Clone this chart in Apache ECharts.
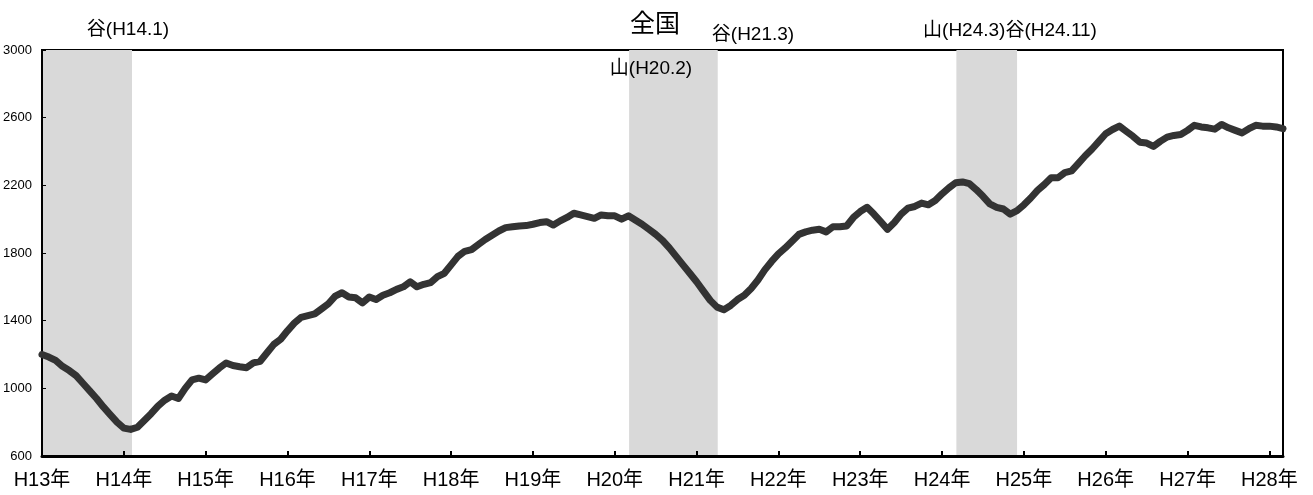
<!DOCTYPE html>
<html>
<head>
<meta charset="utf-8">
<script src="https://cdn.jsdelivr.net/npm/echarts@6/dist/echarts.min.js"></script>
<style>
html,body{margin:0;padding:0;background:#fff;}
#chart{width:1313px;height:495px;}
</style>
</head>
<body>
<div id="chart"></div>
<script>
// Monthly values, H13.1 (index 0) to H28.3 (index 182)
var values = [
1200,1185,1165,1130,1105,1075,1030,985,940,890,845,800,
765,757,770,810,850,895,930,955,940,1000,1050,1060,
1050,1085,1120,1150,1135,1128,1122,1150,1160,1210,1260,1290,
1340,1385,1420,1430,1440,1470,1500,1545,1565,1540,1535,1505,
1540,1525,1550,1565,1585,1600,1630,1600,1615,1625,1660,1680,
1730,1780,1810,1820,1850,1880,1905,1930,1950,1955,1960,1962,
1970,1980,1985,1965,1990,2010,2035,2025,2015,2005,2025,2020,
2020,2000,2020,1995,1970,1940,1910,1875,1830,1780,1730,1680,
1630,1575,1520,1480,1465,1490,1525,1550,1590,1640,1700,1750,
1795,1830,1870,1910,1925,1935,1940,1925,1955,1955,1960,2010,
2045,2070,2030,1985,1940,1980,2030,2065,2075,2095,2085,2110,
2150,2185,2215,2220,2210,2175,2135,2090,2070,2060,2030,2050,
2085,2125,2170,2205,2245,2245,2275,2285,2330,2375,2415,2460,
2505,2530,2550,2520,2490,2455,2450,2430,2460,2485,2495,2500,
2525,2555,2545,2540,2532,2560,2540,2525,2510,2535,2555,2550,
2550,2545,2535
];
var yearLabels = ['H13年','H14年','H15年','H16年','H17年','H18年','H19年','H20年','H21年','H22年','H23年','H24年','H25年','H26年','H27年','H28年'];
var yTicks = [600,1000,1400,1800,2200,2600,3000];
// Shaded recession periods (month index from H13.1)
var recessionStart = [0, 86.1, 134.1];
var recessionEnd = [13.2, 99.1, 143.0];
var title = '全国';
var turningLabels = ['谷(H14.1)','山(H20.2)','谷(H21.3)','山(H24.3)谷(H24.11)'];

var FONT = "'Liberation Sans','Noto Sans CJK JP',sans-serif";
var seriesData = values.map(function(v,i){return [i,v];});
var areas = recessionStart.map(function(s,k){return [{xAxis:s},{xAxis:recessionEnd[k]}];});

var chart = echarts.init(document.getElementById('chart'), null, {renderer:'canvas'});
chart.setOption({
  animation:false,
  backgroundColor:'#fff',
  grid:{left:42,right:30,top:50,bottom:39,show:true,borderColor:'#000',borderWidth:2,backgroundColor:'transparent'},
  xAxis:{
    type:'value',min:0,max:values.length-1,interval:12,z:3,
    axisLine:{show:true,lineStyle:{color:'#000',width:3}},
    axisTick:{show:true,inside:true,length:5,lineStyle:{color:'#000',width:2}},
    splitLine:{show:false},
    axisLabel:{color:'#000',fontSize:20,fontFamily:FONT,margin:14,showMaxLabel:true,
      formatter:function(v){return (v%12===0 && yearLabels[v/12])?yearLabels[v/12]:'';}}
  },
  yAxis:{
    type:'value',min:yTicks[0],max:yTicks[yTicks.length-1],interval:400,z:3,
    axisLine:{show:true,lineStyle:{color:'#000',width:1}},
    axisTick:{show:true,inside:true,length:4,lineStyle:{color:'#000',width:1}},
    splitLine:{show:false},
    axisLabel:{color:'#000',fontSize:13,fontFamily:FONT,margin:10,
      formatter:function(v){return String(v);}}
  },
  series:[
    {type:'line',data:[],z:1,silent:true,
     markArea:{silent:true,itemStyle:{color:'#d9d9d9'},data:areas}},
    {type:'line',data:seriesData,z:5,symbol:'none',smooth:false,
     lineStyle:{color:'#333333',width:7,cap:'round',join:'round'}}
  ],
  graphic:[
    {type:'text',x:655,y:25,z:10,style:{text:title,font:'25px '+FONT,fill:'#000',align:'center',verticalAlign:'middle'}},
    {type:'text',x:128,y:30,z:10,style:{text:turningLabels[0],font:'19px '+FONT,fill:'#000',align:'center',verticalAlign:'middle'}},
    {type:'text',x:651,y:69,z:10,style:{text:turningLabels[1],font:'19px '+FONT,fill:'#000',align:'center',verticalAlign:'middle'}},
    {type:'text',x:753,y:35,z:10,style:{text:turningLabels[2],font:'19px '+FONT,fill:'#000',align:'center',verticalAlign:'middle'}},
    {type:'text',x:1010,y:31,z:10,style:{text:turningLabels[3],font:'19px '+FONT,fill:'#000',align:'center',verticalAlign:'middle'}}
  ]
});
</script>
</body>
</html>
